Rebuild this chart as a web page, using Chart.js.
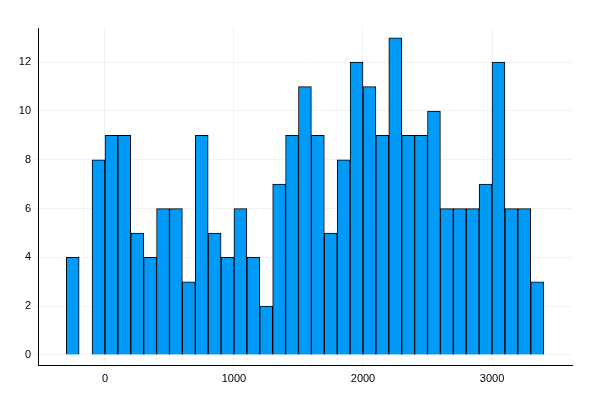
<!DOCTYPE html>
<html>
<head>
<meta charset="utf-8">
<script src="https://cdn.jsdelivr.net/npm/chart.js@4"></script>
<style>html,body{margin:0;padding:0;background:#fff}#wrap{width:600px;height:400px}</style>
</head>
<body>
<div id="wrap"><canvas id="c"></canvas></div>
<script>
const binStarts = [-300,-200,-100,0,100,200,300,400,500,600,700,800,900,1000,1100,1200,1300,1400,1500,1600,1700,1800,1900,2000,2100,2200,2300,2400,2500,2600,2700,2800,2900,3000,3100,3200,3300];
const counts = [4,0,8,9,9,5,4,6,6,3,9,5,4,6,4,2,7,9,11,9,5,8,12,11,9,13,9,9,10,6,6,6,7,12,6,6,3];
const binWidth = 100;
const xTicks = [0,1000,2000,3000];
const yTicks = [0,2,4,6,8,10,12];

new Chart(document.getElementById('c'), {
    type: 'bar',
    data: {
        datasets: [{
            data: binStarts.map((b, i) => ({ x: b + binWidth / 2, y: counts[i] })),
            backgroundColor: '#009af9',
            borderColor: '#000',
            borderWidth: 1,
            barPercentage: 1,
            categoryPercentage: 1
        }]
    },
    options: {
        responsive: true,
        maintainAspectRatio: false,
        animation: false,
        layout: { padding: { top: 28, right: 28, left: 0, bottom: 0 } },
        plugins: { legend: { display: false }, tooltip: { enabled: false } },
        scales: {
            x: {
                type: 'linear', min: -519, max: 3620, offset: false,
                afterBuildTicks: s => { s.ticks = xTicks.map(v => ({ value: v })); },
                afterFit: s => { s.height = 35; },
                grid: { color: 'rgba(0,0,0,0.05)', offset: false, tickLength: 4 },
                border: { color: '#000' },
                ticks: { color: '#000', font: { size: 11 }, maxRotation: 0, callback: v => String(v) }
            },
            y: {
                min: -0.41, max: 13.4,
                afterBuildTicks: s => { s.ticks = yTicks.map(v => ({ value: v })); },
                afterFit: s => { s.width = 38; },
                grid: { color: 'rgba(0,0,0,0.05)', tickLength: 4 },
                border: { color: '#000' },
                ticks: { color: '#000', font: { size: 11 } }
            }
        }
    }
});
</script>
</body>
</html>
